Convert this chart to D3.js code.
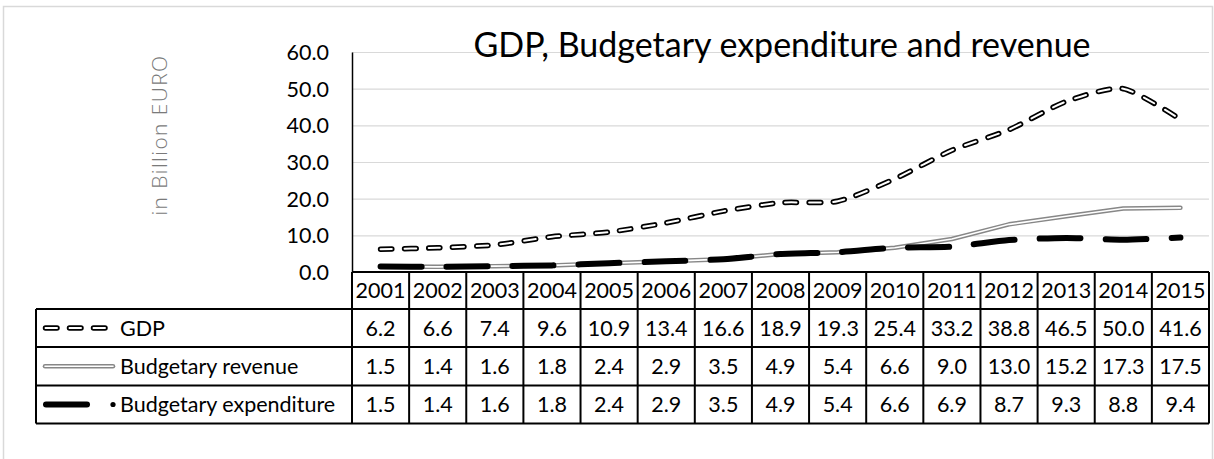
<!DOCTYPE html>
<html><head><meta charset="utf-8">
<script src="https://cdn.jsdelivr.net/npm/d3@7"></script>
<style>
body{margin:0;background:#fff;}
text{font-family:Lato,"Open Sans",sans-serif;fill:#000;}
</style>
</head><body>
<svg id="c" width="1214" height="459"></svg>
<script>
// ---- data ----
const years = ["2001","2002","2003","2004","2005","2006","2007","2008","2009","2010","2011","2012","2013","2014","2015"];
const seriesNames = ["GDP","Budgetary revenue","Budgetary expenditure"];
const gdp = [6.2,6.6,7.4,9.6,10.9,13.4,16.6,18.9,19.3,25.4,33.2,38.8,46.5,50.0,41.6];
const revenue = [1.5,1.4,1.6,1.8,2.4,2.9,3.5,4.9,5.4,6.6,9.0,13.0,15.2,17.3,17.5];
const expenditure = [1.5,1.4,1.6,1.8,2.4,2.9,3.5,4.9,5.4,6.6,6.9,8.7,9.3,8.8,9.4];
const yTicks = [0,10,20,30,40,50,60];
const titleText = "GDP, Budgetary expenditure and revenue";
const yTitleText = "in Billion EURO";

// ---- layout ----
const svg = d3.select("#c");
const L = 352, R = 1209, T = 52, B = 272;
const rowH = [37, 38, 38.5, 38];
const tableLeft = 36;
const FS = 21.5;
const x = d3.scaleBand().domain(years).range([L, R]).paddingInner(0).paddingOuter(0);
const y = d3.scaleLinear().domain([0, 60]).range([B, T]);
const bw = x.bandwidth();
const fmt = d3.format(".1f");

// outer border
svg.append("rect").attr("x",3.5).attr("y",6.5).attr("width",1209).attr("height",470)
  .attr("fill","none").attr("stroke","#d9d9d9").attr("stroke-width",1.5);

// gridlines
svg.append("g").attr("transform",`translate(${L},0)`)
  .call(d3.axisLeft(y).tickValues(yTicks.filter(d=>d>0)).tickSize(-(R-L)).tickFormat(""))
  .call(g=>g.select(".domain").remove())
  .call(g=>g.selectAll("line").attr("stroke","#d9d9d9").attr("stroke-width",1.2));

// y axis labels
svg.append("g").attr("transform",`translate(${L},0)`)
  .call(d3.axisLeft(y).tickValues(yTicks).tickSize(0).tickPadding(23).tickFormat(fmt))
  .call(g=>g.select(".domain").attr("stroke","#000").attr("stroke-width",1.5))
  .call(g=>g.selectAll("text").attr("font-size",FS).attr("font-family","Lato").attr("fill","#000").attr("dy","0.35em"));

// y title
svg.append("text").attr("transform","translate(167,135) rotate(-90)")
  .attr("text-anchor","middle").attr("font-size",21).attr("font-weight",300)
  .attr("letter-spacing","1.4px")
  .style("font-family","'Open Sans'")
  .style("fill","#7a7a7a").text(yTitleText);

// title
svg.append("text").attr("x",782).attr("y",57).attr("text-anchor","middle")
  .attr("font-size",34).text(titleText);

// lines
const cx = d => x(d) + bw/2;
const lineS = d3.line().x((d,i)=>cx(years[i])).y(d=>y(d)).curve(d3.curveCardinal.tension(0.3));
const lineL = d3.line().x((d,i)=>cx(years[i])).y(d=>y(d));
const plot = svg.append("g");
// revenue: gray double line
plot.append("path").attr("d",lineL(revenue)).attr("fill","none").attr("stroke","#878787").attr("stroke-width",4.5).attr("stroke-linejoin","round").attr("stroke-linecap","round");
plot.append("path").attr("d",lineL(revenue)).attr("fill","none").attr("stroke","#fff").attr("stroke-width",1.6).attr("stroke-linejoin","round").attr("stroke-linecap","round");
// expenditure: long dash
plot.append("path").attr("d",lineS(expenditure)).attr("fill","none").attr("stroke","#000").attr("stroke-width",6).attr("stroke-linecap","round").attr("stroke-dasharray","41,25");
// gdp: outlined dashes
plot.append("path").attr("d",lineS(gdp)).attr("fill","none").attr("stroke","#000").attr("stroke-width",5.5).attr("stroke-linecap","round").attr("stroke-dasharray","11.5,12.5");
plot.append("path").attr("d",lineS(gdp)).attr("fill","none").attr("stroke","#fff").attr("stroke-width",2).attr("stroke-linecap","round").attr("stroke-dasharray","11.5,12.5");

// ---- data table ----
const tbl = svg.append("g");
const y0 = B, y1 = y0 + rowH[0], y2 = y1 + rowH[1], y3 = y2 + rowH[2], y4 = y3 + rowH[3];
const rowsY = [y1, y2, y3];
const lw = 2;
tbl.append("line").attr("x1",L).attr("x2",R).attr("y1",y0).attr("y2",y0);
[y1,y2,y3,y4].forEach(yy=>tbl.append("line").attr("x1",tableLeft).attr("x2",R).attr("y1",yy).attr("y2",yy));
tbl.append("line").attr("x1",tableLeft).attr("x2",tableLeft).attr("y1",y1).attr("y2",y4);
years.forEach(yr=>tbl.append("line").attr("x1",x(yr)).attr("x2",x(yr)).attr("y1",y0).attr("y2",y4));
tbl.append("line").attr("x1",R).attr("x2",R).attr("y1",y0).attr("y2",y4);
tbl.selectAll("line").attr("stroke","#000").attr("stroke-width",lw);

tbl.selectAll("text.yr").data(years).enter().append("text")
  .attr("x",d=>cx(d)).attr("y",(y0+y1)/2).attr("dy","0.36em").attr("text-anchor","middle")
  .attr("font-size",FS).text(d=>d);
const allSeries = [gdp, revenue, expenditure];
allSeries.forEach((s,k)=>{
  const top = rowsY[k], bot = [y2,y3,y4][k];
  tbl.selectAll(null).data(s).enter().append("text")
    .attr("x",(d,i)=>cx(years[i])).attr("y",(top+bot)/2).attr("dy","0.36em").attr("text-anchor","middle")
    .attr("font-size",FS).text(d=>fmt(d));
  tbl.append("text").attr("x",120).attr("y",(top+bot)/2).attr("dy","0.36em").attr("font-size",FS).text(seriesNames[k]);
});
// legend keys
const kY = [(y1+y2)/2, (y2+y3)/2, (y3+y4)/2];
tbl.append("line").attr("x1",45.5).attr("x2",105.5).attr("y1",kY[0]).attr("y2",kY[0])
  .attr("stroke","#000").attr("stroke-width",5.5).attr("stroke-linecap","round").attr("stroke-dasharray","11.5,12.5");
tbl.append("line").attr("x1",45.5).attr("x2",105.5).attr("y1",kY[0]).attr("y2",kY[0])
  .attr("stroke","#fff").attr("stroke-width",2).attr("stroke-linecap","round").attr("stroke-dasharray","11.5,12.5");
tbl.append("line").attr("x1",45).attr("x2",113).attr("y1",kY[1]).attr("y2",kY[1])
  .attr("stroke","#878787").attr("stroke-width",4.5).attr("stroke-linecap","round");
tbl.append("line").attr("x1",45).attr("x2",113).attr("y1",kY[1]).attr("y2",kY[1])
  .attr("stroke","#fff").attr("stroke-width",1.6).attr("stroke-linecap","round");
tbl.append("line").attr("x1",46).attr("x2",87).attr("y1",kY[2]).attr("y2",kY[2])
  .attr("stroke","#000").attr("stroke-width",6).attr("stroke-linecap","round");
tbl.append("circle").attr("cx",113).attr("cy",kY[2]).attr("r",2.6).attr("fill","#000");
</script>
</body></html>
